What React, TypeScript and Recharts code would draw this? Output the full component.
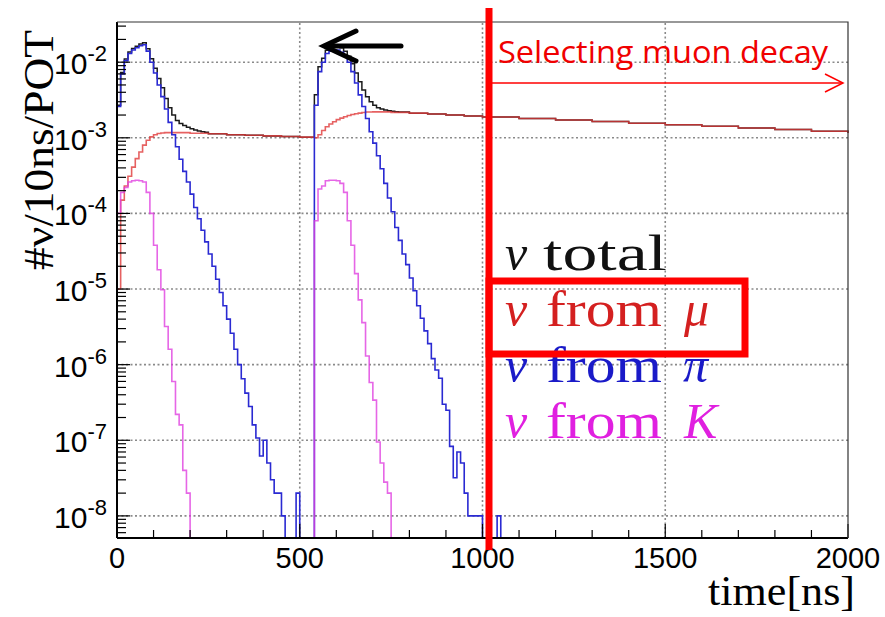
import React from "react";
import { Line, LineChart, ReferenceLine, XAxis, YAxis } from "recharts";

const BIN_NS = 10;

// ν from π, one value per 10 ns bin starting at t = 0 (0 = empty bin)
const piPerBin = [
  2.6e-3, 7e-3, 1.05e-2, 1.3e-2, 1.45e-2, 1.55e-2, 1.65e-2, 1.7e-2, 1.4e-2, 1.0e-2,
  7.2e-3, 5.0e-3, 3.5e-3, 2.4e-3, 1.6e-3, 1.1e-3, 7.6e-4, 5.2e-4, 3.6e-4, 2.6e-4,
  1.8e-4, 1.2e-4, 8.5e-5, 6e-5, 4.2e-5, 2.9e-5, 2e-5, 1.35e-5, 9e-6, 6e-6,
  4e-6, 2.6e-6, 1.6e-6, 1.0e-6, 6.5e-7, 4.2e-7, 2.8e-7, 1.6e-7, 1.07e-7, 6.2e-8,
  1.0e-7, 5e-8, 3e-8, 2e-8, 2e-8, 1e-8, 0, 0, 0, 2e-8,
  0, 0, 0, 0, 2.7e-3, 7.5e-3, 1.0e-2, 1.3e-2, 1.4e-2, 1.45e-2,
  1.45e-2, 1.35e-2, 1.2e-2, 1.0e-2, 7.5e-3, 5.3e-3, 3.7e-3, 2.6e-3, 1.8e-3, 1.2e-3,
  8.5e-4, 5.8e-4, 3.9e-4, 2.5e-4, 1.6e-4, 1.05e-4, 6.5e-5, 4.4e-5, 2.9e-5, 2.1e-5,
  1.4e-5, 9.5e-6, 6e-6, 4.1e-6, 2.8e-6, 1.9e-6, 1.2e-6, 8.5e-7, 6.6e-7, 3e-7,
  2.5e-7, 8.3e-8, 3.2e-8, 7e-8, 5e-8, 2e-8, 1e-8, 1e-8, 1e-8, 1e-8,
  0, 0, 0, 0, 1e-8, 0,
];

// ν from K, same binning
const kaonPerBin = [
  1.0e-4, 1.9e-4, 2.2e-4, 2.6e-4, 2.7e-4, 2.75e-4, 2.7e-4, 2.6e-4, 1.9e-4, 1.0e-4,
  3.8e-5, 1.8e-5, 9.8e-6, 3.2e-6, 1.6e-6, 6e-7, 2.2e-7, 1.6e-7, 4e-8, 2e-8,
  0, 0, 0, 0, 0, 0, 0, 0, 0, 0,
  0, 0, 0, 0, 0, 0, 0, 0, 0, 0,
  0, 0, 0, 0, 0, 0, 0, 0, 0, 0,
  0, 0, 0, 0, 8e-5, 2.1e-4, 2.3e-4, 2.7e-4, 2.75e-4, 2.75e-4,
  2.7e-4, 2.5e-4, 1.9e-4, 8e-5, 3.8e-5, 1.6e-5, 7.2e-6, 3.6e-6, 1.3e-6, 5.8e-7,
  3.4e-7, 9.5e-8, 5e-8, 2.8e-8, 2e-8, 0,
];

// ν from μ, read at bin edges (finer where it changes fast)
const muTimes = [
  0, 10, 20, 30, 40, 50, 60, 70, 80, 90, 100, 110, 120, 130, 150, 200, 250, 300, 350, 400,
  450, 500, 540, 550, 560, 570, 580, 590, 600, 610, 620, 630, 640, 650, 660, 670, 680, 700,
  750, 800, 850, 900, 950, 1000, 1100, 1200, 1300, 1400, 1500, 1600, 1700, 1800, 1900, 2000,
];
const muValues = [
  1e-5, 1.5e-4, 2.3e-4, 3.1e-4, 4.1e-4, 5.3e-4, 6.5e-4, 8e-4, 9.3e-4, 1.03e-3, 1.1e-3, 1.14e-3,
  1.16e-3, 1.17e-3, 1.17e-3, 1.15e-3, 1.13e-3, 1.1e-3, 1.08e-3, 1.06e-3,
  1.04e-3, 1.02e-3, 1.0e-3, 1.1e-3, 1.25e-3, 1.4e-3, 1.52e-3, 1.63e-3, 1.74e-3, 1.82e-3,
  1.9e-3, 1.97e-3, 2.03e-3, 2.08e-3, 2.12e-3, 2.16e-3, 2.19e-3, 2.2e-3,
  2.17e-3, 2.12e-3, 2.06e-3, 2.0e-3, 1.94e-3, 1.88e-3, 1.8e-3, 1.72e-3, 1.64e-3, 1.56e-3,
  1.49e-3, 1.42e-3, 1.35e-3, 1.29e-3, 1.22e-3, 1.16e-3,
];

// ν total
const totalTimes = [
  0, 10, 20, 30, 40, 50, 60, 70, 80, 90, 100, 110, 120, 130, 140, 150, 160, 170, 180, 190,
  200, 210, 220, 230, 240, 250, 300, 350, 400, 450, 500,
  540, 550, 560, 570, 580, 590, 600, 610, 620, 630, 640, 650, 660, 670, 680, 690, 700, 710,
  720, 730, 740, 750, 760, 770, 800, 850, 900, 950, 1000, 1100, 1200, 1300, 1400, 1500,
  1600, 1700, 1800, 1900, 2000,
];
const totalValues = [
  2.7e-3, 7.3e-3, 1.1e-2, 1.36e-2, 1.52e-2, 1.63e-2, 1.74e-2, 1.81e-2, 1.51e-2, 1.11e-2,
  8.3e-3, 6.1e-3, 4.6e-3, 3.3e-3, 2.5e-3, 2.0e-3, 1.7e-3, 1.55e-3, 1.45e-3, 1.38e-3,
  1.32e-3, 1.27e-3, 1.23e-3, 1.2e-3, 1.18e-3, 1.13e-3, 1.1e-3, 1.08e-3, 1.06e-3, 1.04e-3, 1.02e-3,
  3.7e-3, 8.7e-3, 1.13e-2, 1.44e-2, 1.57e-2, 1.64e-2, 1.65e-2, 1.55e-2, 1.4e-2, 1.2e-2,
  9.5e-3, 7.2e-3, 5.5e-3, 4.3e-3, 3.5e-3, 3.0e-3, 2.7e-3, 2.5e-3,
  2.4e-3, 2.33e-3, 2.28e-3, 2.24e-3, 2.21e-3, 2.19e-3, 2.12e-3, 2.06e-3, 2.0e-3, 1.94e-3,
  1.88e-3, 1.8e-3, 1.72e-3, 1.64e-3, 1.56e-3, 1.49e-3,
  1.42e-3, 1.35e-3, 1.29e-3, 1.22e-3, 1.16e-3,
];

const xMajorTicks = [0, 500, 1000, 1500, 2000];
const xGridLines = [500, 1000, 1500];
const decadeExponents = [-8, -7, -6, -5, -4, -3, -2];

const X_MAX = 2000;
const Y_MIN = 5.1e-9;
const Y_MAX = 3.4e-2;

const decades = decadeExponents.map((e) => Math.pow(10, e));

// minor ticks: 2..9 x each decade, inside the axis range
const yTicks: number[] = [];
for (let e = -9; e <= -2; e++) {
  for (let m = 1; m <= 9; m++) {
    const v = m * Math.pow(10, e);
    if (v >= Y_MIN && v <= Y_MAX) yTicks.push(v);
  }
}
const xTicks: number[] = [];
for (let t = 0; t <= X_MAX; t += 100) xTicks.push(t);

// empty bins sit on the bottom of the log axis
const atFloor = (v: number) => (v > 0 ? v : Y_MIN);
const binValue = (bins: number[], t: number) => {
  const i = t / BIN_NS;
  return i < bins.length ? atFloor(bins[i]) : Y_MIN;
};
const pairValue = (times: number[], values: number[], t: number) => {
  const i = times.indexOf(t);
  return i >= 0 ? values[i] : null;
};

const allTimes = Array.from(
  new Set([
    ...piPerBin.map((_, i) => i * BIN_NS),
    ...kaonPerBin.map((_, i) => i * BIN_NS),
    ...muTimes,
    ...totalTimes,
    X_MAX,
  ]),
).sort((a, b) => a - b);

const chartData = allTimes.map((t) => ({
  t,
  total: pairValue(totalTimes, totalValues, t),
  mu: pairValue(muTimes, muValues, t),
  pi: binValue(piPerBin, t),
  kaon: binValue(kaonPerBin, t),
}));

const SANS = "'Liberation Sans', Arial, sans-serif";
const SERIF = "'Liberation Serif', 'Times New Roman', serif";
const GRID = { stroke: "#8a8a8a", strokeDasharray: "2 2.5", strokeWidth: 1.6 };

function YTick(props: any) {
  const { x, y, payload } = props;
  const v = payload.value as number;
  const exp = Math.round(Math.log10(v));
  const isDecade = Math.abs(v / Math.pow(10, exp) - 1) < 1e-6;
  return (
    <g>
      <line x1={x} x2={x + (isDecade ? 13 : 9)} y1={y} y2={y} stroke="#000" strokeWidth={1.2} />
      {isDecade && (
        <text x={x - 10} y={y + 12} textAnchor="end" fontFamily={SANS} fontSize={30} fill="#000">
          10
          <tspan dy={-13} fontSize={22}>
            {exp}
          </tspan>
        </text>
      )}
    </g>
  );
}

function XTick(props: any) {
  const { x, y, payload } = props;
  const v = payload.value as number;
  const major = xMajorTicks.includes(v);
  return (
    <g>
      <line x1={x} x2={x} y1={y} y2={y - (major ? 14 : 8)} stroke="#000" strokeWidth={1.2} />
      {major && (
        <text x={x} y={y + 30} textAnchor="middle" fontFamily={SANS} fontSize={29} fill="#000">
          {v}
        </text>
      )}
    </g>
  );
}

function Annotations() {
  return (
    <svg
      width={885}
      height={617}
      style={{ position: "absolute", left: 0, top: 0, pointerEvents: "none" }}
    >
      <polyline points="117,22 848,22 848,538" fill="none" stroke="#333" strokeWidth={1.2} />

      {/* axis titles */}
      <text
        transform="translate(53,150) rotate(-90)"
        textAnchor="middle"
        fontFamily={SERIF}
        fontSize={43}
        textLength={240}
        lengthAdjust="spacingAndGlyphs"
        fill="#000"
      >
        #ν/10ns/POT
      </text>
      <text
        x={708}
        y={605}
        fontFamily={SERIF}
        fontSize={42}
        textLength={147}
        lengthAdjust="spacingAndGlyphs"
        fill="#000"
      >
        time[ns]
      </text>

      {/* arrow to the second bunch */}
      <g stroke="#000" strokeWidth={5} fill="none" strokeLinecap="round">
        <line x1={401} y1={46} x2={327} y2={46} />
        <polyline points="356,31 324,46 356,61" strokeLinejoin="miter" />
      </g>

      {/* muon-decay selection */}
      <line x1={489} y1={8} x2={489} y2={550} stroke="#ff0000" strokeWidth={7} />
      <text
        x={498}
        y={63}
        fontFamily="'Open Sans', 'Liberation Sans', sans-serif"
        fontSize={31}
        textLength={330}
        lengthAdjust="spacingAndGlyphs"
        fill="#f00000"
      >
        Selecting muon decay
      </text>
      <line x1={492} y1={83} x2={843} y2={83} stroke="#ff0000" strokeWidth={1.5} />
      <polyline points="825,74 843,83 825,92" fill="none" stroke="#ff0000" strokeWidth={1.5} />

      {/* legend */}
      <g fontFamily={SERIF} fontSize={50}>
        <text x={505} y={270} fontStyle="italic" fill="#111">ν</text>
        <text x={543} y={270} textLength={124} lengthAdjust="spacingAndGlyphs" fill="#111">total</text>

        <text x={505} y={326} fontStyle="italic" fill="#d42020">ν</text>
        <text x={546} y={326} textLength={116} lengthAdjust="spacingAndGlyphs" fill="#d42020">from</text>
        <text x={684} y={326} fontStyle="italic" fill="#d42020">μ</text>

        <text x={505} y={382} fontStyle="italic" fill="#1a1ac8">ν</text>
        <text x={546} y={382} textLength={116} lengthAdjust="spacingAndGlyphs" fill="#1a1ac8">from</text>
        <text x={683} y={382} fontStyle="italic" fill="#1a1ac8">π</text>

        <text x={505} y={438} fontStyle="italic" fill="#e020e0">ν</text>
        <text x={546} y={438} textLength={116} lengthAdjust="spacingAndGlyphs" fill="#e020e0">from</text>
        <text x={684} y={438} fontStyle="italic" fill="#e020e0">K</text>
      </g>
      <rect x={489} y={281} width={256} height={73} fill="none" stroke="#ff0000" strokeWidth={7} />
    </svg>
  );
}

export default function App() {
  return (
    <div style={{ position: "absolute", left: 0, top: 0, width: 885, height: 617, background: "#fff" }}>
      <LineChart width={885} height={617} data={chartData} margin={{ top: 22, right: 37, bottom: 0, left: 0 }}>
        <XAxis
          dataKey="t"
          type="number"
          domain={[0, X_MAX]}
          ticks={xTicks}
          interval={0}
          height={79}
          tickSize={0}
          tickMargin={0}
          tickLine={false}
          tick={(p: any) => <XTick {...p} />}
          axisLine={{ stroke: "#000", strokeWidth: 2 }}
        />
        <YAxis
          scale="log"
          type="number"
          domain={[Y_MIN, Y_MAX]}
          allowDataOverflow
          ticks={yTicks}
          interval={0}
          width={117}
          tickSize={0}
          tickMargin={0}
          tickLine={false}
          tick={(p: any) => <YTick {...p} />}
          axisLine={{ stroke: "#000", strokeWidth: 2 }}
        />
        {decades.map((v) => (
          <ReferenceLine key={`h${v}`} y={v} {...GRID} />
        ))}
        {xGridLines.map((t) => (
          <ReferenceLine key={`v${t}`} x={t} {...GRID} />
        ))}
        <Line type="stepAfter" dataKey="total" stroke="#1a1a1a" strokeWidth={1.5} dot={false} connectNulls isAnimationActive={false} />
        <Line type="stepAfter" dataKey="mu" stroke="#e03a3a" strokeOpacity={0.8} strokeWidth={1.6} dot={false} connectNulls isAnimationActive={false} />
        <Line type="stepAfter" dataKey="pi" stroke="#2a2ad2" strokeWidth={1.6} dot={false} isAnimationActive={false} />
        <Line type="stepAfter" dataKey="kaon" stroke="#e040e0" strokeOpacity={0.8} strokeWidth={1.6} dot={false} isAnimationActive={false} />
      </LineChart>
      <Annotations />
    </div>
  );
}
